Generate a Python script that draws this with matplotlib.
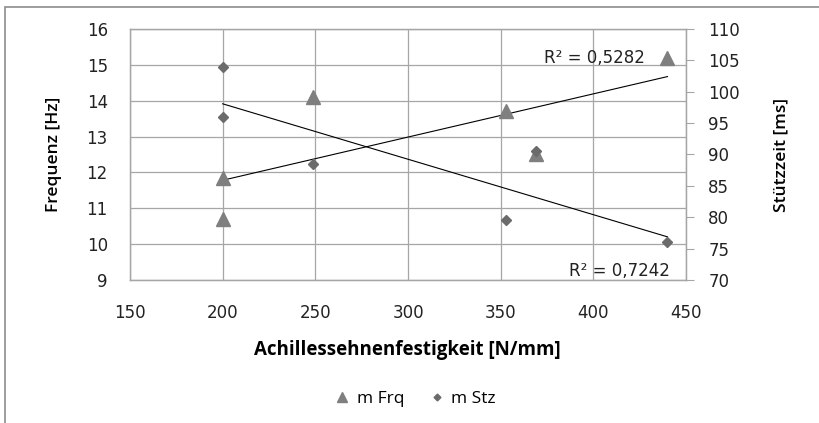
import matplotlib
matplotlib.use("Agg")
import matplotlib.pyplot as plt
from matplotlib.patches import Rectangle
import numpy as np

# Achillessehnenfestigkeit [N/mm]
x_frq = [200, 200, 249, 353, 369, 440]
m_frq = [11.85, 10.7, 14.1, 13.7, 12.5, 15.2]
x_stz = [200, 200, 249, 353, 369, 440]
m_stz = [104, 96, 88.5, 79.5, 90.5, 76]
r2_labels = ["R² = 0,5282", "R² = 0,7242"]

grey = "#a6a6a6"
txt = "#222222"
label_font = ["Open Sans", "DejaVu Sans"]

fig = plt.figure(figsize=(8.19, 4.23), dpi=100)
# outer chart border (cropped at right/bottom)
fig.patches.append(Rectangle((5 / 819, -0.1), 1.2, 1 - 7 / 423 + 0.1,
                             transform=fig.transFigure, fill=False,
                             edgecolor="#8c8c8c", linewidth=1.2))

ax = fig.add_axes([130 / 819, 1 - 280 / 423, 556 / 819, 251 / 423])
ax2 = ax.twinx()

ax.set_xlim(150, 450)
ax.set_ylim(9, 16)
ax2.set_ylim(70, 110)
ax.set_xticks(np.arange(150, 451, 50))
ax.set_yticks(np.arange(9, 17, 1))
ax2.set_yticks(np.arange(70, 111, 5))
ax.grid(True, color=grey, linewidth=0.9)
ax.set_axisbelow(True)

for a in (ax, ax2):
    for s in a.spines.values():
        s.set_color(grey)
        s.set_linewidth(0.9)

ax.tick_params(axis="y", length=0, labelsize=12, colors=txt, pad=16)
ax.tick_params(axis="x", length=0, labelsize=12, colors=txt, pad=17)
ax2.tick_params(axis="y", length=6, color=grey, labelsize=12,
                labelcolor=txt, pad=10)

# trendlines (linear fit)
xs = np.array([min(x_frq), max(x_frq)])
k, d = np.polyfit(x_frq, m_frq, 1)
ax.plot(xs, k * xs + d, color="black", linewidth=0.8, zorder=3)
xs2 = np.array([min(x_stz), max(x_stz)])
k2, d2 = np.polyfit(x_stz, m_stz, 1)
ax2.plot(xs2, k2 * xs2 + d2, color="black", linewidth=0.8, zorder=3)

ax.plot(x_frq, m_frq, linestyle="none", marker="^", markersize=9.5,
        color="#7f7f7f", label="m Frq", zorder=4)
ax2.plot(x_stz, m_stz, linestyle="none", marker="D", markersize=4.6,
         color="#6b6b6b", label="m Stz", zorder=4)

ax.text(428, 15.19, r2_labels[0], ha="right", va="center", fontsize=12,
        color=txt)
ax.text(441.5, 9.26, r2_labels[1], ha="right", va="center", fontsize=12,
        color=txt)

ax.set_ylabel("Frequenz [Hz]", fontsize=12.5, fontweight="semibold",
              family=label_font)
ax.yaxis.set_label_coords(-0.122, 0.5)
ax2.set_ylabel("Stützzeit [ms]", fontsize=12.5, fontweight="semibold",
               family=label_font)
ax2.yaxis.set_label_coords(1.158, 0.5)
ax.set_xlabel("Achillessehnenfestigkeit [N/mm]", fontsize=13.5,
              fontweight="bold", family=label_font)
ax.xaxis.set_label_coords(0.498, -0.240)

h1, l1 = ax.get_legend_handles_labels()
h2, l2 = ax2.get_legend_handles_labels()
fig.legend(h1 + h2, l1 + l2, loc="center", bbox_to_anchor=(416 / 819, 1 - 399 / 423),
           ncol=2, frameon=False, prop={"family": label_font, "size": 12.5},
           handlelength=0.7, handletextpad=0.5, columnspacing=1.5, markerscale=0.75)

fig.savefig("out.png", dpi=100)
